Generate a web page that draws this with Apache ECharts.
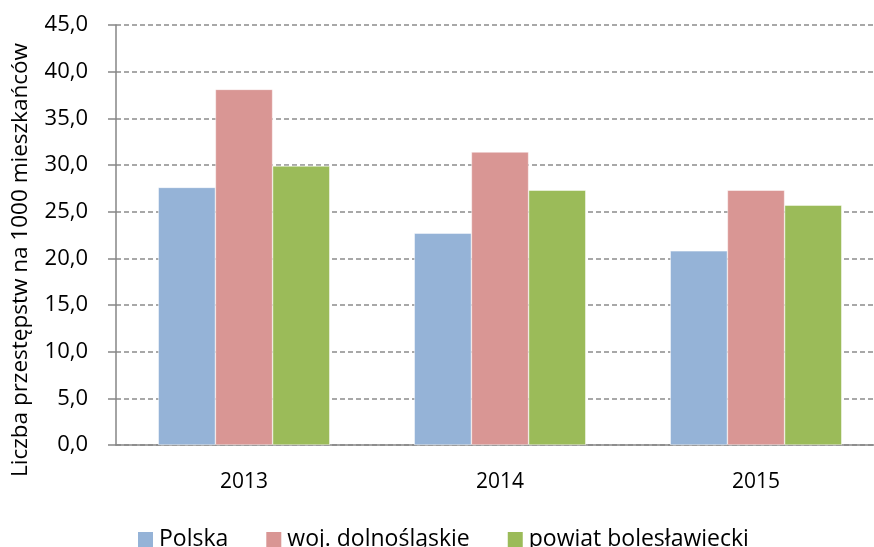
<!DOCTYPE html>
<html>
<head>
<meta charset="utf-8">
<script src="https://cdn.jsdelivr.net/npm/echarts@6/dist/echarts.min.js"></script>
<style>
  html, body { margin: 0; padding: 0; background: #fff; overflow: hidden; }
  #chart { width: 884px; height: 547px; }
</style>
</head>
<body>
<div id="chart"></div>
<script>
// Data
const years = ['2013', '2014', '2015']
const polska = [27.6, 22.7, 20.8]
const dolnoslaskie = [38.1, 31.4, 27.3]
const boleslawiecki = [29.9, 27.3, 25.7]
const seriesNames = ['Polska', 'woj. dolnośląskie', 'powiat bolesławiecki']

const font = '"Open Sans", "Liberation Sans", sans-serif'
const chart = echarts.init(document.getElementById('chart'), null, { renderer: 'canvas' })

const barSeries = (name, data, color) => ({
  name,
  type: 'bar',
  data,
  barGap: '0%',
  barCategoryGap: '33%',
  itemStyle: { color, borderColor: '#ffffff', borderWidth: 0.5 }
})

chart.setOption({
  animation: false,
  textStyle: { fontFamily: font },
  // plot runs a bit past the right edge of the picture, like the original
  grid: { left: 116, top: 25, right: 0, height: 420, containLabel: false, outerBoundsMode: 'none' },
  legend: {
    data: seriesNames,
    top: 523,
    left: 131,
    itemWidth: 17,
    itemHeight: 17,
    itemGap: 36,
    icon: 'rect',
    textStyle: { fontFamily: font, fontSize: 23, color: '#000' }
  },
  xAxis: {
    type: 'category',
    data: years,
    axisLine: { lineStyle: { color: '#868686', width: 1.5 } },
    axisTick: { length: 8, lineStyle: { color: '#868686', width: 1.5 } },
    axisLabel: { fontFamily: font, fontSize: 21, color: '#000', margin: 27 }
  },
  yAxis: {
    type: 'value',
    min: 0,
    max: 45,
    interval: 5,
    name: '{t|Liczba przestępstw na 1000 mieszkańców}{gap|}',
    nameLocation: 'middle',
    nameGap: 84,
    nameMoveOverlap: false,
    nameTextStyle: {
      fontFamily: font, fontSize: 22.5, color: '#000',
      rich: {
        t: { fontFamily: font, fontSize: 22.5, color: '#000' },
        gap: { width: 50 }
      }
    },
    axisLine: { show: true, lineStyle: { color: '#868686', width: 1.5 } },
    axisTick: { show: true, length: 8, lineStyle: { color: '#868686', width: 1.5 } },
    axisLabel: {
      fontFamily: font, fontSize: 22, color: '#000', margin: 28,
      formatter: v => v.toFixed(1).replace('.', ',')
    },
    splitLine: { lineStyle: { color: '#8c8c8c', type: [5, 3], width: 1.5 } }
  },
  series: [
    barSeries(seriesNames[0], polska, '#95b3d7'),
    barSeries(seriesNames[1], dolnoslaskie, '#d99694'),
    barSeries(seriesNames[2], boleslawiecki, '#9bbb59')
  ]
})
</script>
</body>
</html>
